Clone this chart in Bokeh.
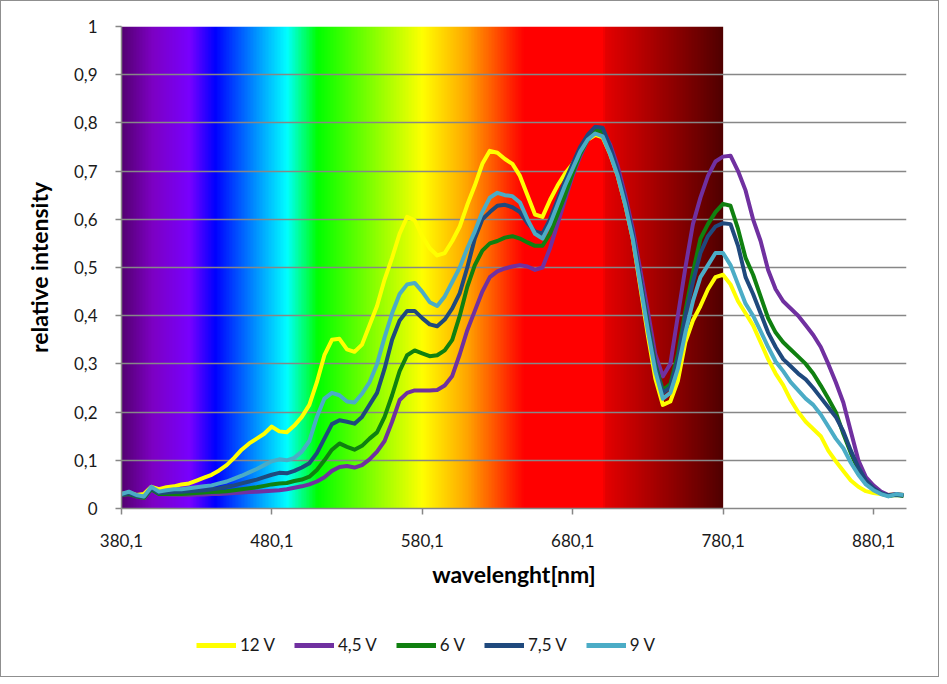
import numpy as np
from bokeh.plotting import figure
from bokeh.layouts import column
from bokeh.models import FixedTicker, Legend, LegendItem, Range1d
from bokeh.embed import file_html
from bokeh.resources import INLINE

# ---------------- data ----------------
wavelength = list(range(380, 901, 5))

v12 = [0.030, 0.033, 0.028, 0.030, 0.045, 0.040, 0.044, 0.046, 0.050, 0.052,
       0.058, 0.064, 0.070, 0.079, 0.090, 0.105, 0.122, 0.135, 0.145, 0.155,
       0.170, 0.160, 0.158, 0.172, 0.190, 0.215, 0.262, 0.318, 0.350, 0.352,
       0.330, 0.325, 0.340, 0.380, 0.420, 0.475, 0.520, 0.570, 0.605, 0.598,
       0.565, 0.540, 0.525, 0.530, 0.555, 0.585, 0.630, 0.670, 0.715, 0.742,
       0.738, 0.725, 0.715, 0.690, 0.650, 0.610, 0.605, 0.640, 0.670, 0.695,
       0.715, 0.740, 0.765, 0.775, 0.770, 0.735, 0.690, 0.630, 0.560, 0.460,
       0.360, 0.270, 0.215, 0.222, 0.265, 0.345, 0.390, 0.420, 0.455, 0.480,
       0.485, 0.465, 0.430, 0.405, 0.380, 0.345, 0.310, 0.280, 0.256, 0.225,
       0.200, 0.180, 0.165, 0.150, 0.120, 0.098, 0.078, 0.058, 0.045, 0.036,
       0.032, 0.030, 0.028, 0.030, 0.028]

v45 = [0.028, 0.030, 0.025, 0.022, 0.040, 0.030, 0.029, 0.028, 0.028, 0.028,
       0.029, 0.029, 0.030, 0.030, 0.031, 0.032, 0.033, 0.034, 0.035, 0.036,
       0.037, 0.038, 0.040, 0.043, 0.046, 0.050, 0.056, 0.065, 0.078, 0.086,
       0.088, 0.085, 0.090, 0.102, 0.118, 0.140, 0.180, 0.225, 0.240, 0.245,
       0.245, 0.245, 0.246, 0.255, 0.275, 0.320, 0.370, 0.410, 0.450, 0.480,
       0.492, 0.498, 0.502, 0.505, 0.502, 0.495, 0.500, 0.540, 0.590, 0.640,
       0.690, 0.730, 0.765, 0.785, 0.785, 0.755, 0.710, 0.650, 0.580, 0.495,
       0.410, 0.320, 0.274, 0.300, 0.400, 0.500, 0.590, 0.645, 0.690, 0.720,
       0.730, 0.732, 0.700, 0.660, 0.600, 0.555, 0.495, 0.455, 0.430, 0.415,
       0.400, 0.380, 0.360, 0.335, 0.300, 0.262, 0.220, 0.160, 0.100, 0.065,
       0.048, 0.035, 0.028, 0.030, 0.028]

v6 = [0.028, 0.030, 0.025, 0.022, 0.040, 0.030, 0.030, 0.030, 0.030, 0.031,
      0.032, 0.033, 0.034, 0.035, 0.036, 0.038, 0.040, 0.042, 0.044, 0.047,
      0.050, 0.052, 0.053, 0.057, 0.060, 0.066, 0.080, 0.100, 0.122, 0.135,
      0.128, 0.122, 0.130, 0.145, 0.158, 0.190, 0.235, 0.285, 0.318, 0.328,
      0.322, 0.316, 0.318, 0.328, 0.350, 0.400, 0.460, 0.505, 0.535, 0.550,
      0.555, 0.562, 0.565, 0.560, 0.552, 0.545, 0.545, 0.570, 0.610, 0.650,
      0.695, 0.735, 0.765, 0.785, 0.782, 0.745, 0.695, 0.635, 0.565, 0.475,
      0.385, 0.300, 0.245, 0.258, 0.320, 0.410, 0.490, 0.560, 0.590, 0.615,
      0.632, 0.628, 0.580, 0.520, 0.485, 0.440, 0.395, 0.365, 0.345, 0.330,
      0.315, 0.300, 0.280, 0.255, 0.228, 0.200, 0.155, 0.115, 0.080, 0.055,
      0.040, 0.031, 0.026, 0.028, 0.026]

v75 = [0.028, 0.032, 0.026, 0.024, 0.042, 0.032, 0.033, 0.034, 0.035, 0.036,
       0.037, 0.038, 0.040, 0.042, 0.045, 0.048, 0.052, 0.056, 0.060, 0.065,
       0.070, 0.074, 0.073, 0.078, 0.085, 0.094, 0.115, 0.145, 0.175, 0.183,
       0.180, 0.176, 0.190, 0.215, 0.240, 0.290, 0.350, 0.390, 0.410, 0.410,
       0.395, 0.382, 0.378, 0.392, 0.415, 0.447, 0.500, 0.560, 0.600, 0.615,
       0.628, 0.630, 0.625, 0.615, 0.592, 0.575, 0.570, 0.600, 0.640, 0.680,
       0.715, 0.750, 0.775, 0.792, 0.790, 0.750, 0.700, 0.640, 0.570, 0.475,
       0.380, 0.295, 0.240, 0.252, 0.310, 0.400, 0.470, 0.530, 0.565, 0.585,
       0.592, 0.590, 0.545, 0.480, 0.445, 0.405, 0.365, 0.335, 0.310, 0.295,
       0.280, 0.268, 0.250, 0.230, 0.210, 0.190, 0.160, 0.120, 0.085, 0.058,
       0.042, 0.032, 0.027, 0.029, 0.027]

v9 = [0.030, 0.035, 0.028, 0.025, 0.045, 0.035, 0.038, 0.040, 0.040, 0.042,
      0.044, 0.046, 0.048, 0.052, 0.056, 0.062, 0.068, 0.075, 0.082, 0.090,
      0.098, 0.102, 0.100, 0.105, 0.118, 0.140, 0.190, 0.228, 0.240, 0.235,
      0.222, 0.220, 0.238, 0.262, 0.300, 0.355, 0.405, 0.445, 0.465, 0.468,
      0.450, 0.428, 0.420, 0.440, 0.470, 0.500, 0.540, 0.575, 0.615, 0.645,
      0.655, 0.650, 0.648, 0.635, 0.600, 0.570, 0.560, 0.590, 0.630, 0.670,
      0.705, 0.740, 0.765, 0.778, 0.772, 0.735, 0.690, 0.630, 0.560, 0.465,
      0.370, 0.285, 0.228, 0.240, 0.290, 0.365, 0.430, 0.480, 0.505, 0.530,
      0.530, 0.505, 0.465, 0.425, 0.400, 0.368, 0.335, 0.305, 0.285, 0.262,
      0.245, 0.228, 0.215, 0.195, 0.170, 0.145, 0.125, 0.095, 0.070, 0.050,
      0.038, 0.030, 0.025, 0.030, 0.028]

series_names = ["12 V", "4,5 V", "6 V", "7,5 V", "9 V"]
series_values = [v12, v45, v6, v75, v9]
series_colors = ["#ffff00", "#7030a0", "#108010", "#1f497d", "#4bacc6"]

x_ticks = [380.1, 480.1, 580.1, 680.1, 780.1, 880.1]
x_tick_labels = ["380,1", "480,1", "580,1", "680,1", "780,1", "880,1"]
y_ticks = [0.0, 0.1, 0.2, 0.3, 0.4, 0.5, 0.6, 0.7, 0.8, 0.9, 1.0]
y_tick_labels = ["0", "0,1", "0,2", "0,3", "0,4", "0,5", "0,6", "0,7", "0,8", "0,9", "1"]

# visible spectrum background stops (nm, r, g, b)
spec_nm = [380, 400, 425, 442, 468, 490, 510, 535, 580, 610, 640, 648, 700, 702, 780]
spec_r = [85, 125, 120, 0, 0, 0, 0, 90, 255, 255, 255, 255, 255, 228, 80]
spec_g = [0, 0, 0, 0, 140, 255, 255, 255, 255, 165, 30, 0, 0, 0, 0]
spec_b = [115, 195, 255, 255, 255, 255, 0, 0, 0, 0, 0, 0, 0, 0, 0]
spec_start, spec_end = 380.1, 780.1

FONT = "Lato"
W = 937

p = figure(width=W, height=600, output_backend="svg", toolbar_location=None,
           x_range=Range1d(380.1, 902), y_range=Range1d(0, 1),
           min_border_left=120, min_border_right=32, min_border_top=25,
           min_border_bottom=93)
p.outline_line_color = None
p.background_fill_color = "white"
p.border_fill_color = "white"

# spectrum gradient background
n = 400
xs = np.linspace(spec_start, spec_end, n)
img = np.zeros((1, n), dtype=np.uint32)
view = img.view(dtype=np.uint8).reshape((1, n, 4))
view[0, :, 0] = np.interp(xs, spec_nm, spec_r).astype(np.uint8)
view[0, :, 1] = np.interp(xs, spec_nm, spec_g).astype(np.uint8)
view[0, :, 2] = np.interp(xs, spec_nm, spec_b).astype(np.uint8)
view[0, :, 3] = 255
p.image_rgba(image=[img], x=spec_start, y=0, dw=spec_end - spec_start, dh=1, level="image")

for name, vals, col in zip(series_names, series_values, series_colors):
    p.line(wavelength, vals, line_color=col, line_width=4, line_join="round")

# grid
p.xgrid.visible = False
p.ygrid.grid_line_color = "#878787"
p.ygrid.grid_line_width = 1.5
p.ygrid.ticker = FixedTicker(ticks=y_ticks)

# axes
p.xaxis.ticker = FixedTicker(ticks=x_ticks)
p.xaxis.major_label_overrides = dict(zip(x_ticks, x_tick_labels))
p.yaxis.ticker = FixedTicker(ticks=y_ticks)
p.yaxis.major_label_overrides = dict(zip(y_ticks, y_tick_labels))
for ax in (p.xaxis, p.yaxis):
    ax.axis_line_color = "#878787"
    ax.axis_line_width = 1.5
    ax.major_tick_line_color = "#878787"
    ax.major_tick_line_width = 1.5
    ax.major_tick_in = 0
    ax.major_tick_out = 6
    ax.minor_tick_line_color = None
    ax.major_label_text_font = FONT
    ax.major_label_text_font_size = "17px"
    ax.major_label_text_color = "#1a1a1a"
    ax.axis_label_text_font = FONT
    ax.axis_label_text_font_style = "bold"
    ax.axis_label_text_color = "#000000"
    ax.axis_label_text_font_size = "23px"

p.xaxis.axis_label = "wavelenght[nm]"
p.xaxis.major_label_standoff = 19
p.xaxis.axis_label_standoff = 10
p.yaxis.axis_label = "relative intensity"
p.yaxis.major_label_standoff = 18
p.yaxis.axis_label_standoff = 18

# legend strip below the chart
p2 = figure(width=W, height=75, output_backend="svg", toolbar_location=None,
            x_range=Range1d(0, 1), y_range=Range1d(0, 1),
            x_axis_location=None, y_axis_location=None,
            min_border_left=0, min_border_right=0, min_border_top=0,
            min_border_bottom=0)
p2.outline_line_color = None
p2.xgrid.visible = False
p2.ygrid.visible = False
items = []
for name, vals, col in zip(series_names, series_values, series_colors):
    r = p2.line(wavelength, vals, line_color=col, line_width=5)
    items.append(LegendItem(label=name, renderers=[r]))
legend = Legend(items=items, orientation="horizontal", location=(75, 21),
                glyph_width=40, glyph_height=20, label_standoff=4, spacing=19,
                label_text_font=FONT, label_text_font_size="17px",
                label_text_color="#1a1a1a",
                border_line_color=None, background_fill_alpha=0,
                margin=0, padding=4)
p2.add_layout(legend, "center")

layout = column(p, p2, spacing=0, styles={"border": "1px solid #8f8f8f"})

open("out.html", "w").write(file_html(layout, INLINE))
